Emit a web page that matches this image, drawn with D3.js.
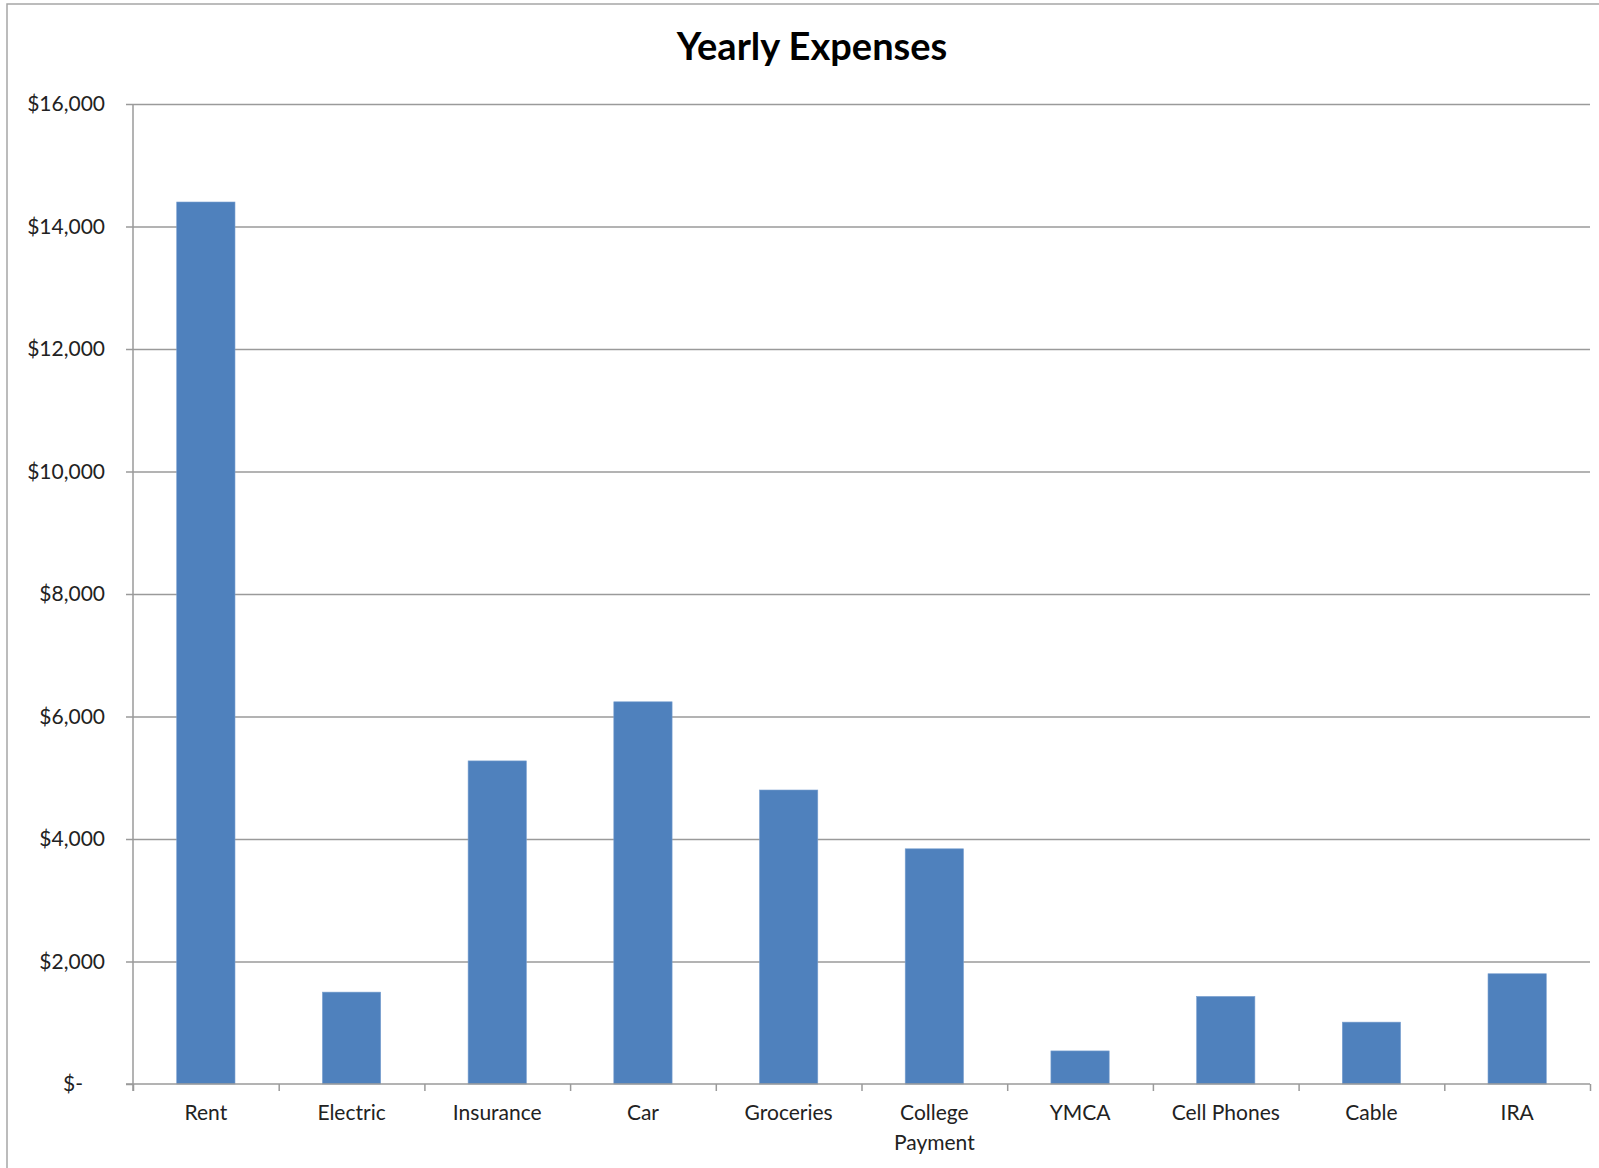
<!DOCTYPE html>
<html>
<head>
<meta charset="utf-8">
<script src="https://cdn.jsdelivr.net/npm/d3@7"></script>
<style>
  html, body { margin: 0; padding: 0; background: #fff; overflow: hidden; }
  svg { display: block; font-family: Lato, "Open Sans", sans-serif; }
  .grid line { stroke: #9a9a9a; stroke-width: 1.5; }
  .grid path { display: none; }
  .axis path, .axis line { stroke: #9a9a9a; stroke-width: 1.5; }
  .axis text { fill: #222; font-size: 21px; font-family: Lato, "Open Sans", sans-serif; }
</style>
</head>
<body>
<svg></svg>
<script>
'use strict';

// chart data
var categories = ["Rent", "Electric", "Insurance", "Car", "Groceries",
                  "College Payment", "YMCA", "Cell Phones", "Cable", "IRA"];
var expenses = [14400, 1500, 5275, 6240, 4800, 3840, 540, 1430, 1010, 1800];
var yTicks = [0, 2000, 4000, 6000, 8000, 10000, 12000, 14000, 16000];
var title = "Yearly Expenses";

var W = 1599, H = 1168;
var margin = {top: 104, right: 9, bottom: 84, left: 133};
var width = W - margin.left - margin.right,
    height = H - margin.top - margin.bottom;

var svg = d3.select("svg")
  .attr("width", W)
  .attr("height", H);

// outer chart border (cropped on the right and bottom)
svg.append("rect")
  .attr("x", 7).attr("y", 4)
  .attr("width", W + 20).attr("height", H + 20)
  .attr("fill", "none")
  .attr("stroke", "#a6a6a6")
  .attr("stroke-width", 1.5);

svg.append("text")
  .attr("x", 812)
  .attr("y", 60)
  .attr("text-anchor", "middle")
  .style("font-size", "38px")
  .style("font-weight", "bold")
  .attr("fill", "#000")
  .text(title);

var g = svg.append("g")
  .attr("transform", "translate(" + margin.left + "," + margin.top + ")");

var x = d3.scaleBand()
  .domain(categories)
  .range([0, width])
  .paddingInner(0.6)
  .paddingOuter(0.3);

var xEdge = d3.scaleLinear()
  .domain([0, categories.length])
  .range([0, width]);

var y = d3.scaleLinear()
  .domain([0, 16000])
  .range([height, 0]);

// horizontal gridlines
g.append("g")
  .attr("class", "grid")
  .call(d3.axisLeft(y).tickValues(yTicks.slice(1)).tickSize(-width).tickFormat(""));

// bars
g.selectAll(".bar")
  .data(expenses)
  .enter()
  .append("rect")
  .attr("class", "bar")
  .attr("x", function(d, i) { return x(categories[i]); })
  .attr("width", x.bandwidth())
  .attr("y", function(d) { return y(d); })
  .attr("height", function(d) { return height - y(d); })
  .attr("fill", "#4f81bd")
  .attr("stroke", "#7aa0d0")
  .attr("stroke-width", 0.6);

// y axis
var fmt = d3.format(",");
var yAxis = g.append("g")
  .attr("class", "axis")
  .call(d3.axisLeft(y)
    .tickValues(yTicks)
    .tickSize(7)
    .tickPadding(21)
    .tickFormat(function(d) { return d === 0 ? "$-" : "$" + fmt(d); }));
yAxis.attr("font-family", null).attr("font-size", null);
yAxis.select(".domain").attr("d", "M0," + (height + 7) + "V0");
yAxis.selectAll(".tick")
  .filter(function(d) { return d === 0; })
  .select("text")
  .attr("dx", -22);

// x axis: tick marks on category edges
var xTicks = g.append("g")
  .attr("class", "axis")
  .attr("transform", "translate(0," + height + ")")
  .call(d3.axisBottom(xEdge)
    .tickValues(d3.range(categories.length + 1))
    .tickSize(7)
    .tickFormat(""));
xTicks.select(".domain").attr("d", "M-7,0H" + width);

// x axis labels, centred on each category
var xLabels = g.append("g")
  .attr("class", "axis")
  .attr("transform", "translate(0," + height + ")")
  .call(d3.axisBottom(x).tickSize(0).tickPadding(21));
xLabels.attr("font-family", null).attr("font-size", null);
xLabels.select(".domain").remove();

xLabels.selectAll(".tick text").each(function(d) {
  var t = d3.select(this);
  if (this.getComputedTextLength() > x.step() - 8) {
    var words = d.split(" ");
    var yy = t.attr("y");
    t.text(null);
    words.forEach(function(w, k) {
      t.append("tspan")
        .attr("x", 0)
        .attr("y", yy)
        .attr("dy", (0.71 + k * 1.43) + "em")
        .text(w);
    });
  }
});
</script>
</body>
</html>
